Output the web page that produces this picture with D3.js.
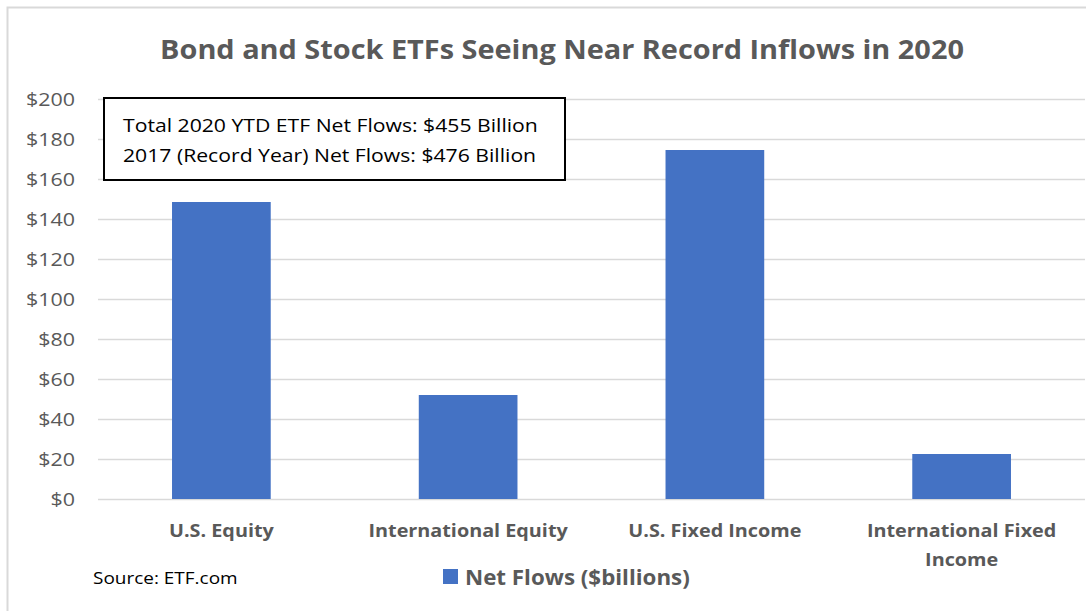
<!DOCTYPE html>
<html>
<head>
<meta charset="utf-8">
<script src="https://cdn.jsdelivr.net/npm/d3@7"></script>
<style>
  html, body { margin: 0; padding: 0; background: #fff; }
  svg { display: block; font-family: "Open Sans", sans-serif; }
</style>
</head>
<body>
<div id="chart"></div>
<script>
// Bond and Stock ETF net flows, 2020 YTD ($billions)
const categories = ['U.S. Equity', 'International Equity', 'U.S. Fixed Income', 'International Fixed Income'];
const netFlows = [148.5, 52, 174.5, 22.5];
const yTicks = [0, 20, 40, 60, 80, 100, 120, 140, 160, 180, 200];
const noteLines = ['Total 2020 YTD ETF Net Flows: $455 Billion', '2017 (Record Year) Net Flows: $476 Billion'];

const W = 1086, H = 611;
const M = { left: 98, right: 1085, top: 99, bottom: 499 };
const GREY = '#595959', BLUE = '#4472c4';

const svg = d3.select('#chart').append('svg').attr('width', W).attr('height', H);

// the source picture is a bit wider than its font; stretch text to match
function stretch(sel, sx) {
  sel.each(function () {
    const t = d3.select(this);
    const tx = +t.attr('x') || 0, ty = +t.attr('y') || 0;
    t.attr('x', 0).attr('y', 0).attr('transform', `translate(${tx},${ty}) scale(${sx},1)`);
    t.selectAll('tspan').attr('x', 0);
  });
}

// chart area border (runs off the right/bottom edge)
svg.append('rect')
  .attr('x', 7.5).attr('y', 7.5).attr('width', W + 10).attr('height', H + 10)
  .attr('fill', 'none').attr('stroke', '#d9d9d9').attr('stroke-width', 2);

const x = d3.scaleBand().domain(categories).range([M.left, M.right]).paddingInner(0.6).paddingOuter(0.3);
const y = d3.scaleLinear().domain([0, 200]).range([M.bottom, M.top]);

// gridlines
svg.append('g')
  .selectAll('line').data(yTicks).join('line')
  .attr('x1', M.left).attr('x2', M.right)
  .attr('y1', d => y(d) + 0.5).attr('y2', d => y(d) + 0.5)
  .attr('stroke', '#d9d9d9').attr('stroke-width', 1.3);

// y axis labels
const yAxis = d3.axisLeft(y).tickValues(yTicks).tickSize(0).tickPadding(0).tickFormat(d => '$' + d);
const yt = svg.append('g').attr('transform', `translate(75,0)`).call(yAxis)
  .call(g => g.select('.domain').remove())
  .selectAll('text')
  .attr('fill', GREY).style('font-size', '18.5px').style('font-family', '"Open Sans", sans-serif').attr('dy', '0.35em');
yt.attr('transform', 'scale(1.16,1)');

// bars
svg.append('g').selectAll('rect').data(categories).join('rect')
  .attr('x', d => x(d)).attr('width', x.bandwidth())
  .attr('y', (d, i) => y(netFlows[i]))
  .attr('height', (d, i) => y(0) - y(netFlows[i]))
  .attr('fill', BLUE);

// x category labels (wrap the long one)
const xl = svg.append('g');
categories.forEach(c => {
  const cx = x(c) + x.bandwidth() / 2;
  const lines = c === 'International Fixed Income' ? ['International Fixed', 'Income'] : [c];
  const t = xl.append('text').attr('x', cx).attr('y', 537)
    .attr('text-anchor', 'middle').attr('fill', GREY)
    .style('font-size', '18px').style('font-weight', 'bold');
  lines.forEach((ln, i) => t.append('tspan').attr('x', cx).attr('dy', i ? 29 : 0).text(ln));
});
stretch(xl.selectAll('text'), 1.1);

// title
svg.append('text').attr('x', 562).attr('y', 59).attr('text-anchor', 'middle')
  .attr('fill', GREY).style('font-size', '27px').style('font-weight', 'bold')
  .text('Bond and Stock ETFs Seeing Near Record Inflows in 2020')
  .call(stretch, 1.07);

// annotation box
svg.append('rect').attr('x', 104).attr('y', 98).attr('width', 461).attr('height', 82)
  .attr('fill', '#fff').attr('stroke', '#000').attr('stroke-width', 2);
noteLines.forEach((t, i) => {
  svg.append('text').attr('x', 123).attr('y', 132 + i * 30)
    .attr('fill', '#000').style('font-size', '18.5px').text(t)
    .call(stretch, 1.145);
});

// source
svg.append('text').attr('x', 93).attr('y', 584).attr('fill', '#000')
  .style('font-size', '16.5px').text('Source: ETF.com')
  .call(stretch, 1.15);

// legend
svg.append('rect').attr('x', 443).attr('y', 569).attr('width', 15).attr('height', 15).attr('fill', BLUE);
svg.append('text').attr('x', 465).attr('y', 585).attr('fill', GREY)
  .style('font-size', '20.5px').style('font-weight', 'bold').text('Net Flows ($billions)')
  .call(stretch, 1.09);
</script>
</body>
</html>
